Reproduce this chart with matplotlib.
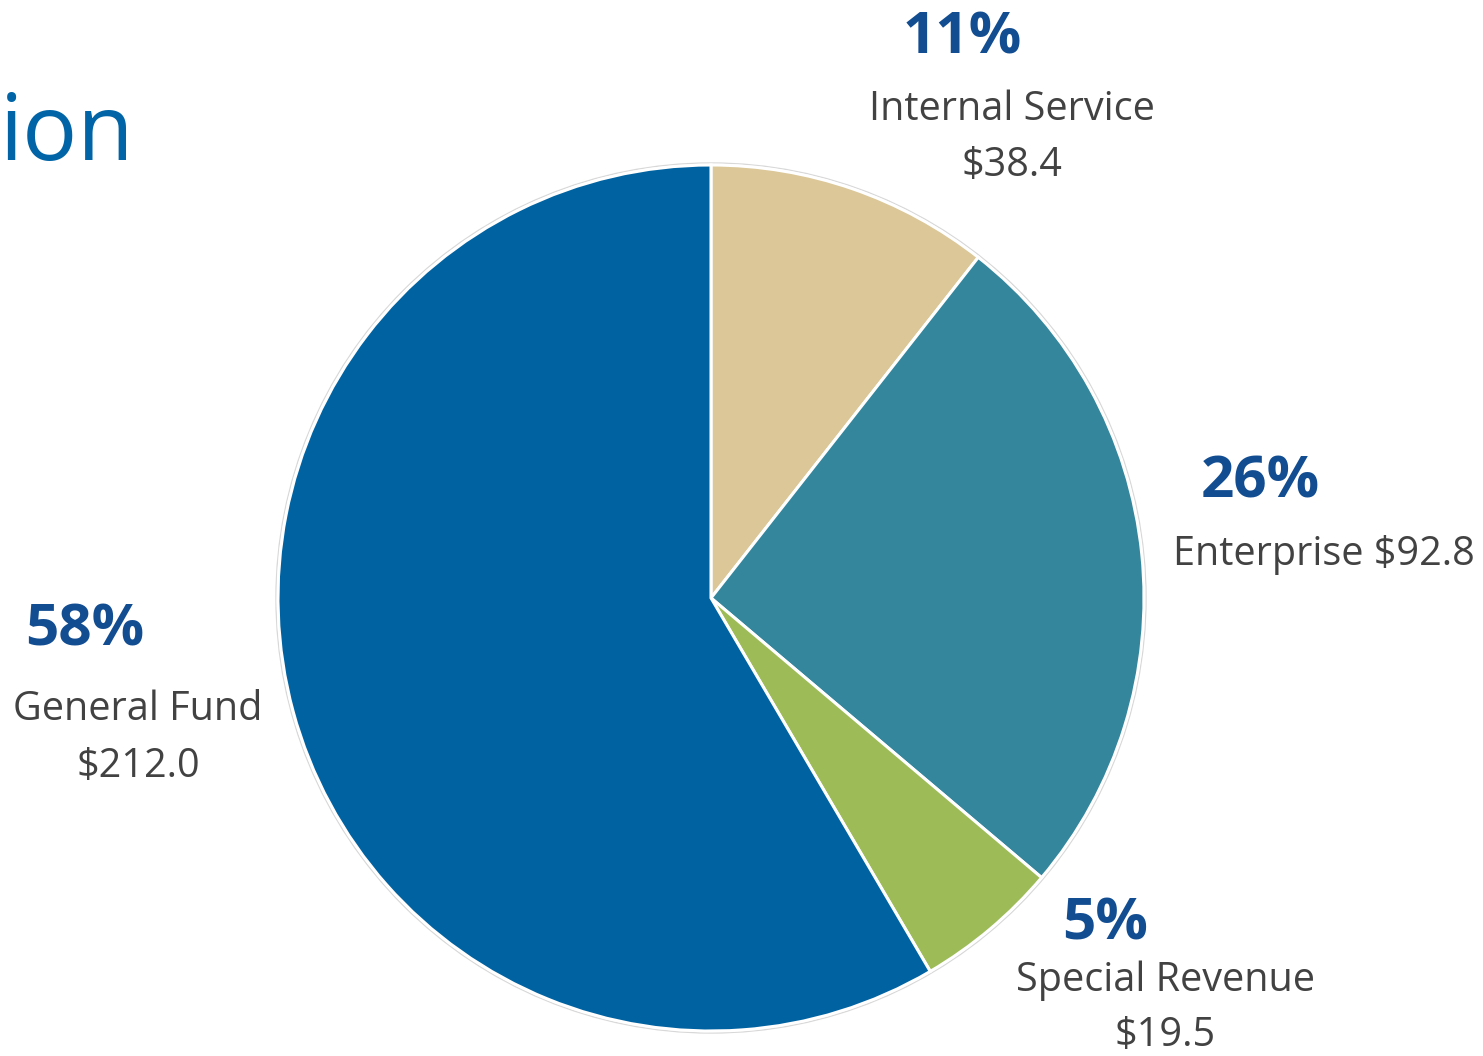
import matplotlib.pyplot as plt
from matplotlib.patches import Circle

plt.rcParams['font.family'] = ['Open Sans', 'DejaVu Sans']

# budget by fund type, $ millions (clockwise from 12 o'clock)
funds = ['Internal Service', 'Enterprise', 'Special Revenue', 'General Fund']
amounts = [38.4, 92.8, 19.5, 212.0]
colors = ['#DBC797', '#33869C', '#9DBB57', '#0062A1']

W, H = 1483, 1056
fig = plt.figure(figsize=(W / 100, H / 100), dpi=100)
ax = fig.add_axes([0, 0, 1, 1])

cx, cy, r = 711, H - 598, 433

# thin grey rim behind the white wedge borders
ax.add_patch(Circle((cx, cy), r + 2, facecolor='none', edgecolor='#d8d8d8', lw=1.0, zorder=0))
ax.pie(amounts, colors=colors, startangle=90, counterclock=False,
       center=(cx, cy), radius=r, frame=True,
       wedgeprops=dict(edgecolor='white', linewidth=2.2))
ax.set_xlim(0, W)
ax.set_ylim(0, H)
ax.axis('off')

total = sum(amounts)
pct = [round(a / total * 100) for a in amounts]

blue = '#124D92'
grey = '#424242'
pct_size = 42
lab_size = 28.5

def y(py):
    return H - py

# Internal Service
ax.text(962, y(38), f'{pct[0]}%', color=blue, fontsize=pct_size, fontweight='bold', ha='center', va='center')
ax.text(1012, y(110), funds[0], color=grey, fontsize=lab_size, ha='center', va='center')
ax.text(1012, y(166), f'${amounts[0]:.1f}', color=grey, fontsize=lab_size, ha='center', va='center')

# Enterprise
ax.text(1260, y(483), f'{pct[1]}%', color=blue, fontsize=pct_size, fontweight='bold', ha='center', va='center')
ax.text(1173, y(555), f'{funds[1]} ${amounts[1]:.1f}', color=grey, fontsize=lab_size, ha='left', va='center')

# Special Revenue
ax.text(1105, y(925), f'{pct[2]}%', color=blue, fontsize=pct_size, fontweight='bold', ha='center', va='center')
ax.text(1165, y(981), funds[2], color=grey, fontsize=lab_size, ha='center', va='center')
ax.text(1165, y(1036), f'${amounts[2]:.1f}', color=grey, fontsize=lab_size, ha='center', va='center')

# General Fund
ax.text(85, y(630), f'{pct[3]}%', color=blue, fontsize=pct_size, fontweight='bold', ha='center', va='center')
ax.text(138, y(710), funds[3], color=grey, fontsize=lab_size, ha='center', va='center')
ax.text(138, y(767), f'${amounts[3]:.1f}', color=grey, fontsize=lab_size, ha='center', va='center')

# tail of the cut-off heading
ax.text(0, y(160), 'ion', color='#0064A6', fontsize=66, ha='left', va='baseline')

fig.savefig('out.png', dpi=100, facecolor='white')
